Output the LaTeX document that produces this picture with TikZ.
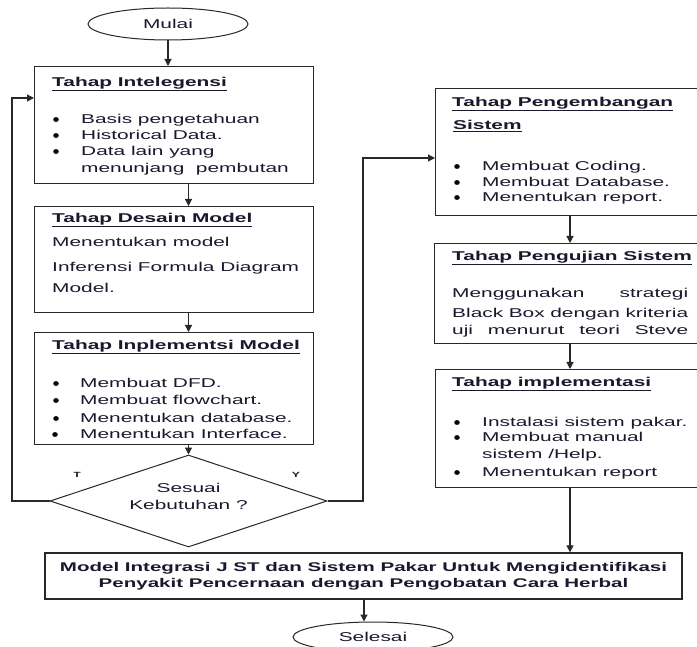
\documentclass[tikz,border=0pt]{standalone}
\usepackage{fontspec}
\setmainfont{Liberation Sans}[FakeStretch=1.63]
\usetikzlibrary{shapes.geometric,arrows.meta}
\definecolor{ln}{RGB}{40,40,40}
\definecolor{tx}{RGB}{25,25,45}
\begin{document}
\begin{tikzpicture}[x=1pt,y=-1pt,
  box/.style={draw=ln,line width=1.3pt,rectangle,inner sep=0pt},
  term/.style={draw=ln,line width=1pt,ellipse,inner sep=0pt,text=tx},
  txt/.style={inner sep=0pt,text=tx,font=\fontsize{12.8}{17}\selectfont},
  hd/.style={txt,font=\fontsize{12.8}{17}\selectfont\bfseries},
  bul/.style={ellipse,fill=black,inner sep=0pt,minimum width=5.5pt,minimum height=4.8pt},
  arr/.style={draw=ln,line width=1.2pt,-{Triangle[length=7pt,width=7pt]}},
  lab/.style={inner sep=0pt,text=tx,font=\fontsize{7.5}{9}\selectfont\bfseries}]
\clip (0,0) rectangle (697,647);
\fill[white] (0,0) rectangle (697,647);

% terminals
\node[term,minimum width=160pt,minimum height=32pt,txt] (mulai) at (168,24) {Mulai};
\node[term,minimum width=160pt,minimum height=30pt,txt] (selesai) at (373,637) {Selesai};

% left column boxes
\node[box,minimum width=279pt,minimum height=117pt,anchor=north west] (b1) at (34,66) {};
\node[box,minimum width=279pt,minimum height=106pt,anchor=north west] (b2) at (34,206) {};
\node[box,minimum width=279pt,minimum height=112pt,anchor=north west] (b3) at (34,332) {};

% decision
\node[draw=ln,line width=1pt,diamond,minimum width=277pt,minimum height=92pt,inner sep=0pt] (dec) at (188.5,501) {};
\node[txt,anchor=base] (d1) at (188.5,492.5) {Sesuai};
\node[txt,anchor=base] (d2) at (188.5,509.5) {Kebutuhan ?};
\node[lab] (lt) at (77,475) {T};
\node[lab] (ly) at (296,475) {Y};

% right column boxes
\node[box,minimum width=300pt,minimum height=127pt,anchor=north west] (b4) at (435,88) {};
\node[box,minimum width=300pt,minimum height=100pt,anchor=north west] (b5) at (434,243) {};
\node[box,minimum width=300pt,minimum height=118pt,anchor=north west] (b6) at (435,369) {};

% final box
\node[box,minimum width=637pt,minimum height=46pt,align=center,text=tx,
  font=\fontsize{12.6}{16}\selectfont\bfseries] (fin) at (363.5,576)
  {Model Integrasi J ST dan Sistem Pakar Untuk Mengidentifikasi\\Penyakit Pencernaan dengan Pengobatan Cara Herbal};

% box 1 text
\node[hd,anchor=base west] (h1) at (52,86.5) {\underline{Tahap Intelegensi}};
\node[bul] (p11) at (56,119.5) {};
\node[txt,anchor=base west] (t11) at (81,123.5) {Basis pengetahuan};
\node[bul] (p12) at (56,135.5) {};
\node[txt,anchor=base west] (t12) at (81,139.5) {Historical Data.};
\node[bul] (p13) at (56,151.5) {};
\node[txt,anchor=base west] (t13) at (81,155.5) {Data lain yang};
\node[txt,anchor=base west] (t14) at (81,172.5) {menunjang\ \ pembutan};

% box 2 text
\node[hd,anchor=base west] (h2) at (52,222.5) {\underline{Tahap Desain Model}};
\node[txt,anchor=base west] (t21) at (52,246.5) {Menentukan model};
\node[txt,anchor=base west] (t22) at (52,271.5) {Inferensi Formula Diagram};
\node[txt,anchor=base west] (t23) at (52,292.5) {Model.};

% box 3 text
\node[hd,anchor=base west] (h3) at (52,349.5) {\underline{Tahap Inplementsi Model}};
\node[bul] (p31) at (56,383.5) {};
\node[txt,anchor=base west] (t31) at (80,387.5) {Membuat DFD.};
\node[bul] (p32) at (56,400.5) {};
\node[txt,anchor=base west] (t32) at (80,404.5) {Membuat flowchart.};
\node[bul] (p33) at (56,418.5) {};
\node[txt,anchor=base west] (t33) at (80,422.5) {Menentukan database.};
\node[bul] (p34) at (55,434.5) {};
\node[txt,anchor=base west] (t34) at (80,438.5) {Menentukan Interface.};

% box 4 text
\node[hd,anchor=base west] (h4) at (452,106.5) {\underline{Tahap Pengembangan}};
\node[hd,anchor=base west] (h4b) at (453,129.5) {\underline{Sistem}};
\node[bul] (p41) at (457,166.5) {};
\node[txt,anchor=base west] (t41) at (482,170.5) {Membuat Coding.};
\node[bul] (p42) at (457,182.5) {};
\node[txt,anchor=base west] (t42) at (482,186.5) {Membuat Database.};
\node[bul] (p43) at (457,197.5) {};
\node[txt,anchor=base west] (t43) at (482,201.5) {Menentukan report.};

% box 5 text
\node[hd,anchor=base west] (h5) at (452,260.5) {\underline{Tahap Pengujian Sistem}};
\node[txt,anchor=base west] (t51) at (452,297.5) {\makebox[236pt][s]{Menggunakan strategi}};
\node[txt,anchor=base west] (t52) at (452,317.5) {\makebox[236pt][s]{Black Box dengan kriteria}};
\node[txt,anchor=base west] (t53) at (452,334.5) {\makebox[236pt][s]{uji menurut teori Steve}};

% box 6 text
\node[hd,anchor=base west] (h6) at (452,386.5) {\underline{Tahap implementasi}};
\node[bul] (p61) at (457,422.5) {};
\node[txt,anchor=base west] (t61) at (482,426.5) {Instalasi sistem pakar.};
\node[bul] (p62) at (457,437.5) {};
\node[txt,anchor=base west] (t62) at (482,441.5) {Membuat manual};
\node[txt,anchor=base west] (t63) at (482,458.5) {sistem /Help.};
\node[bul] (p63) at (457,472.5) {};
\node[txt,anchor=base west] (t64) at (482,476.5) {Menentukan report};

% connectors
\coordinate (xa) at (168,0);
\coordinate (xb) at (188.5,0);
\coordinate (xc) at (570,0);
\coordinate (xd) at (364,0);
\coordinate (lp) at (12,98);
\coordinate (rp) at (363,158);
\draw[arr] (mulai.south) -- (b1.north -| xa);
\draw[arr] (b1.south -| xb) -- (b2.north -| xb);
\draw[arr] (b2.south -| xb) -- (b3.north -| xb);
\draw[arr] (b3.south -| xb) -- (dec.north);
\draw[arr] (dec.west) -| (lp) -- (lp -| b1.west);
\draw[arr] (dec.east) -| (rp) -- (rp -| b4.west);
\draw[arr] (b4.south -| xc) -- (b5.north -| xc);
\draw[arr] (b5.south -| xc) -- (b6.north -| xc);
\draw[arr] (b6.south -| xc) -- (fin.north -| xc);
\draw[arr] (fin.south -| xd) -- (selesai.north -| xd);
\end{tikzpicture}
\end{document}
